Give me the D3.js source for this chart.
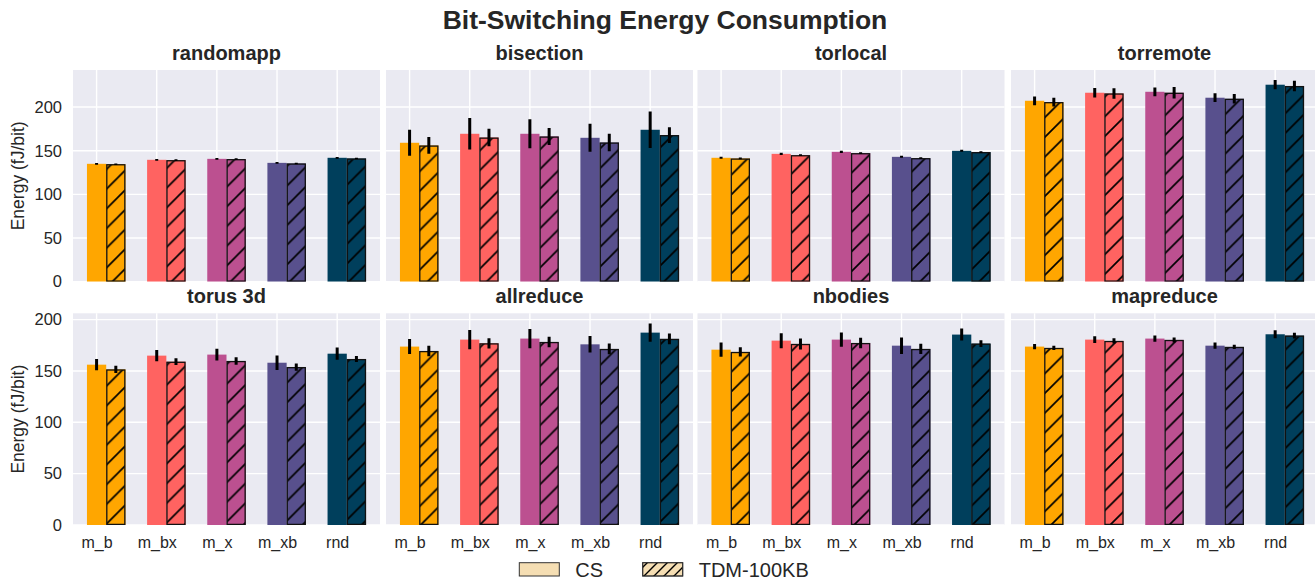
<!DOCTYPE html>
<html>
<head>
<meta charset="utf-8">
<script src="https://cdn.jsdelivr.net/npm/d3@7"></script>
<style>
  html, body { margin: 0; padding: 0; background: #ffffff; }
  svg { display: block; font-family: "Liberation Sans", Arial, sans-serif; }
</style>
</head>
<body>
<svg id="chart" width="1315" height="581"></svg>
<script>
// ---- data -------------------------------------------------------------
const categories = ["m_b", "m_bx", "m_x", "m_xb", "rnd"];
const panelNames = ["randomapp", "bisection", "torlocal", "torremote",
                    "torus 3d", "allreduce", "nbodies", "mapreduce"];
const seriesNames = ["CS", "TDM-100KB"];
const barColors = ["#ffa600", "#ff6361", "#bc5090", "#58508d", "#003f5c"];
const yTicks = [0, 50, 100, 150, 200];

// mean energy per panel (rows) and category (columns), fJ/bit
const csMean = [
  [135.0, 139.6, 140.7, 136.1, 141.9],
  [159.1, 169.4, 169.4, 164.8, 174.0],
  [141.9, 146.4, 148.7, 143.0, 149.9],
  [207.2, 216.4, 217.5, 210.7, 225.6],
  [156.1, 164.9, 165.9, 158.0, 166.8],
  [173.7, 180.5, 181.5, 175.9, 187.3],
  [170.7, 179.5, 180.5, 174.6, 185.4],
  [173.7, 180.5, 181.5, 174.6, 185.7]
];
const csErr = [
  [1.0, 1.0, 1.0, 0.9, 1.0],
  [15.0, 18.0, 16.5, 16.0, 21.0],
  [1.2, 1.2, 1.2, 1.1, 1.2],
  [5.0, 5.5, 5.0, 5.0, 5.3],
  [5.5, 5.5, 5.7, 7.0, 6.0],
  [7.3, 9.4, 9.3, 8.0, 9.0],
  [7.0, 7.3, 7.0, 8.0, 5.8],
  [2.5, 3.3, 3.1, 3.1, 3.9]
];
const tdmMean = [
  [134.6, 139.2, 140.4, 135.4, 141.1],
  [156.0, 165.1, 166.3, 159.4, 167.9],
  [141.1, 144.9, 147.2, 141.5, 148.4],
  [205.7, 215.6, 216.4, 209.5, 224.1],
  [151.5, 159.0, 159.7, 153.8, 161.6],
  [169.4, 176.9, 178.2, 171.4, 181.2],
  [168.5, 176.3, 177.2, 171.4, 176.6],
  [172.4, 179.2, 180.2, 173.4, 184.4]
];
const tdmErr = [
  [0.9, 0.9, 0.9, 0.8, 0.9],
  [9.6, 10.0, 9.7, 10.0, 9.0],
  [1.0, 1.0, 1.0, 1.0, 1.0],
  [5.0, 6.0, 6.5, 5.5, 6.0],
  [3.5, 3.3, 3.7, 3.5, 3.0],
  [5.0, 5.0, 5.2, 5.2, 5.3],
  [4.5, 5.4, 5.2, 5.0, 3.3],
  [2.0, 2.6, 2.4, 2.1, 2.8]
];

// ---- layout -----------------------------------------------------------
const svg = d3.select("#chart");
const W = 1315, H = 581;
const colLeft = [73, 386, 697.5, 1011];
const panelW = 307;
const rowTop = [70, 313.3];
const rowBottom = [281.7, 525];
const barW = 0.32;            // bar width in category units
const textColor = "#262626";

// hatch patterns: one for the bars, a denser one for the legend key
const defs = svg.append("defs");
function hatch(id, s, width) {
  const p = defs.append("pattern").attr("id", id)
    .attr("patternUnits", "userSpaceOnUse")
    .attr("width", s).attr("height", s);
  p.append("path")
    .attr("d", `M0,${s} L${s},0 M${-s/2},${s/2} L${s/2},${-s/2} M${s/2},${1.5*s} L${1.5*s},${s/2}`)
    .attr("stroke", "#000").attr("stroke-width", width).attr("fill", "none");
}
hatch("hatchBar", 19.7, 1.7);
hatch("hatchKey", 10, 1.4);

// title
svg.append("text")
  .attr("x", 665).attr("y", 29)
  .attr("text-anchor", "middle")
  .attr("font-size", 26.5).attr("font-weight", "bold")
  .attr("fill", textColor)
  .text("Bit-Switching Energy Consumption");

// shared y domains per row: highest error-bar top plus a 5% margin
const rowMax = [0, 1].map(r => {
  let m = 0;
  for (let p = r * 4; p < r * 4 + 4; p++) {
    for (let c = 0; c < categories.length; c++) {
      m = Math.max(m, csMean[p][c] + csErr[p][c], tdmMean[p][c] + tdmErr[p][c]);
    }
  }
  return m * 1.05;
});

// x domain: full bar extent plus a 5% margin on each side
const xLo = -barW / 2, xHi = categories.length - 1 + barW * 1.5;
const xPad = (xHi - xLo) * 0.05;

panelNames.forEach((name, p) => {
  const row = Math.floor(p / 4), col = p % 4;
  const x0 = colLeft[col], x1 = x0 + panelW;
  const y0 = rowTop[row], y1 = rowBottom[row];

  const x = d3.scaleLinear().domain([xLo - xPad, xHi + xPad]).range([x0, x1]);
  const y = d3.scaleLinear().domain([0, rowMax[row]]).range([y1, y0]);
  const bw = x(barW) - x(0);

  const g = svg.append("g");
  const clipId = "clip" + p;
  defs.append("clipPath").attr("id", clipId)
    .append("rect").attr("x", x0).attr("y", y0).attr("width", panelW).attr("height", y1 - y0);

  // background and grid
  g.append("rect")
    .attr("x", x0).attr("y", y0).attr("width", panelW).attr("height", y1 - y0)
    .attr("fill", "#eaeaf2");
  g.selectAll(".hgrid").data(yTicks).join("line")
    .attr("x1", x0).attr("x2", x1)
    .attr("y1", d => y(d)).attr("y2", d => y(d))
    .attr("stroke", "#ffffff").attr("stroke-width", 1.4);
  g.selectAll(".vgrid").data(categories.map((c, i) => i)).join("line")
    .attr("x1", d => x(d)).attr("x2", d => x(d))
    .attr("y1", y0).attr("y2", y1)
    .attr("stroke", "#ffffff").attr("stroke-width", 1.4);

  const marks = g.append("g").attr("clip-path", `url(#${clipId})`);

  // CS bars (solid)
  marks.selectAll(".cs").data(csMean[p]).join("rect")
    .attr("x", (d, i) => x(i) - bw / 2)
    .attr("y", d => y(d))
    .attr("width", bw)
    .attr("height", d => y(0) - y(d))
    .attr("fill", (d, i) => barColors[i]);

  // TDM bars (hatched, outlined)
  const tdm = marks.selectAll(".tdm").data(tdmMean[p]).join("g");
  tdm.append("rect")
    .attr("x", (d, i) => x(i) + bw / 2)
    .attr("y", d => y(d))
    .attr("width", bw)
    .attr("height", d => y(0) - y(d))
    .attr("fill", (d, i) => barColors[i]);
  tdm.append("rect")
    .attr("x", (d, i) => x(i) + bw / 2 + 0.6)
    .attr("y", d => y(d) + 0.6)
    .attr("width", bw - 1.2)
    .attr("height", d => y(0) - y(d) - 1.2)
    .attr("fill", "url(#hatchBar)")
    .attr("stroke", "#111").attr("stroke-width", 1.3);

  // error bars
  marks.selectAll(".errcs").data(csMean[p]).join("line")
    .attr("x1", (d, i) => x(i)).attr("x2", (d, i) => x(i))
    .attr("y1", (d, i) => y(d - csErr[p][i])).attr("y2", (d, i) => y(d + csErr[p][i]))
    .attr("stroke", "#000").attr("stroke-width", 3);
  marks.selectAll(".errtdm").data(tdmMean[p]).join("line")
    .attr("x1", (d, i) => x(i) + bw).attr("x2", (d, i) => x(i) + bw)
    .attr("y1", (d, i) => y(d - tdmErr[p][i])).attr("y2", (d, i) => y(d + tdmErr[p][i]))
    .attr("stroke", "#000").attr("stroke-width", 3);

  // subplot title
  svg.append("text")
    .attr("x", (x0 + x1) / 2).attr("y", row === 0 ? 59.5 : 303)
    .attr("text-anchor", "middle")
    .attr("font-size", 20).attr("font-weight", "bold")
    .attr("fill", textColor)
    .text(name);

  // y axis on the left column only
  if (col === 0) {
    const ya = svg.append("g")
      .attr("transform", `translate(${x0},0)`)
      .call(d3.axisLeft(y).tickValues(yTicks).tickSize(0).tickPadding(11));
    ya.select(".domain").remove();
    ya.selectAll("text").attr("font-size", 16.5).attr("fill", textColor)
      .attr("font-family", "'Liberation Sans', Arial, sans-serif");
    svg.append("text")
      .attr("transform", `translate(24,${(y0 + y1) / 2}) rotate(-90)`)
      .attr("text-anchor", "middle")
      .attr("font-size", 17.5).attr("fill", textColor)
      .text("Energy (fJ/bit)");
  }

  // category labels on the bottom row
  if (row === 1) {
    const xa = svg.append("g")
      .attr("transform", `translate(0,${y1})`)
      .call(d3.axisBottom(x).tickValues(categories.map((c, i) => i))
        .tickFormat(i => categories[i]).tickSize(0).tickPadding(12));
    xa.select(".domain").remove();
    xa.selectAll("text").attr("font-size", 16).attr("fill", textColor)
      .attr("font-family", "'Liberation Sans', Arial, sans-serif");
  }
});

// legend
const legend = svg.append("g");
const keyY = 562.7, keyH = 13.3, keyW = 40;
const keyX = [519.3, 642.7];
seriesNames.forEach((s, i) => {
  legend.append("rect")
    .attr("x", keyX[i]).attr("y", keyY).attr("width", keyW).attr("height", keyH)
    .attr("fill", "#f5deb3").attr("stroke", "#333").attr("stroke-width", 1);
  if (i === 1) {
    legend.append("rect")
      .attr("x", keyX[i]).attr("y", keyY).attr("width", keyW).attr("height", keyH)
      .attr("fill", "url(#hatchKey)").attr("stroke", "#333").attr("stroke-width", 1);
  }
  legend.append("text")
    .attr("x", keyX[i] + keyW + 16).attr("y", keyY + keyH + 0.5)
    .attr("font-size", 20).attr("fill", textColor)
    .text(s);
});
</script>
</body>
</html>
